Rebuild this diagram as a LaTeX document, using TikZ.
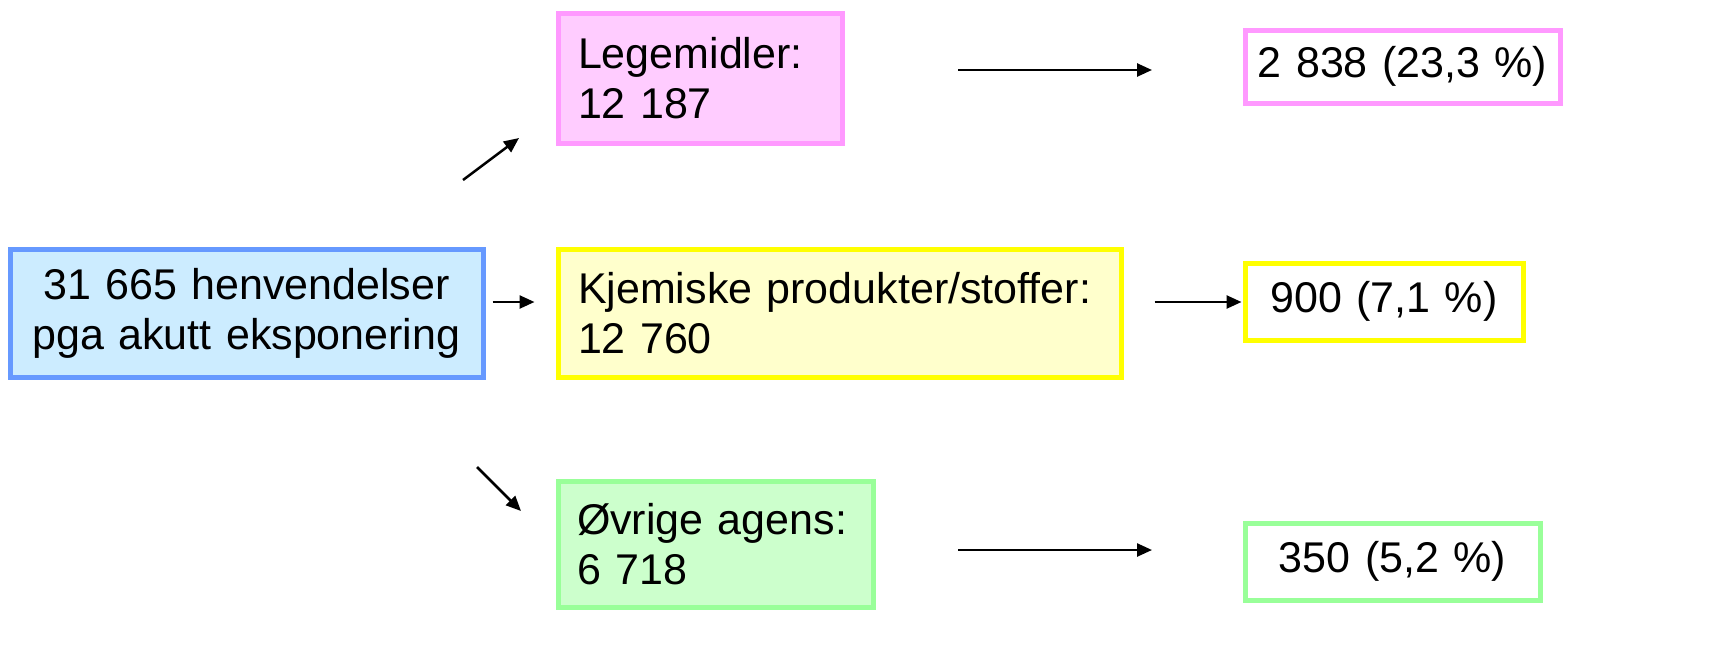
\documentclass[tikz,border=0pt]{standalone}
\usepackage{fontspec}
\setmainfont{Liberation Sans}
\usetikzlibrary{arrows.meta}
\definecolor{bluefill}{HTML}{CCECFF}
\definecolor{blueline}{HTML}{6699FF}
\definecolor{pinkfill}{HTML}{FFCCFF}
\definecolor{pinkline}{HTML}{FF99FF}
\definecolor{yelfill}{HTML}{FFFFCC}
\definecolor{yelline}{HTML}{FFFF00}
\definecolor{grnfill}{HTML}{CCFFCC}
\definecolor{grnline}{HTML}{99FF99}
\tikzset{
  box/.style={draw, line width=5pt, rectangle, inner ysep=0pt, inner xsep=20pt,
    font=\fontsize{43}{50}\selectfont},
  arr/.style={line width=2.5pt, -{Triangle[length=15pt,width=13pt]}}
}
\begin{document}
\begin{tikzpicture}[x=1pt,y=-1pt]
\useasboundingbox (0,0) rectangle (1723,667);
% main nodes
\node[box, fill=bluefill, draw=blueline, minimum width=473pt, minimum height=128pt,
  inner xsep=5pt, text width=463pt, align=center] (src) at (246.5,313)
  {31 665 henvendelser\\pga akutt eksponering};
\node[box, fill=pinkfill, draw=pinkline, minimum height=130pt, text width=244pt, align=left]
  (leg) at (700,78) {Legemidler:\\12 187};
\node[box, fill=yelfill, draw=yelline, minimum height=128pt, text width=523pt, align=left]
  (kje) at (839.5,313) {Kjemiske produkter/stoffer:\\12 760};
\node[box, fill=grnfill, draw=grnline, minimum height=126pt, text width=277pt, inner xsep=19pt, align=left]
  (ovr) at (715.5,544) {Øvrige agens:\\6 718};
% result nodes
\node[box, fill=white, draw=pinkline, minimum height=73pt, text width=305pt, inner xsep=5pt, align=center]
  (r1) at (1402.5,66.5) {2 838 (23,3 \%)};
\node[box, fill=white, draw=yelline, minimum height=77pt, text width=268pt, inner xsep=5pt, align=center]
  (r2) at (1384,301.5) {900 (7,1 \%)};
\node[box, fill=white, draw=grnline, minimum height=77pt, text width=285pt, inner xsep=5pt, align=center]
  (r3) at (1392.5,561.5) {350 (5,2 \%)};
% arrow end points
\coordinate (u1) at (463,180);
\coordinate (u2) at (519,138);
\coordinate (d1) at (477,467);
\coordinate (d2) at (521,511);
\coordinate (a1) at (958,70);
\coordinate (a2) at (1152,70);
\coordinate (c1) at (958,550);
\coordinate (c2) at (1152,550);
% connectors
\draw[arr] (src.east) ++(7,-11) coordinate (s1) -- ++(42,0) coordinate (s2);
\draw[arr] (u1) -- (u2);
\draw[arr] (d1) -- (d2);
\draw[arr] (kje.east) ++(31,-11) coordinate (k1) -- ++(87,0) coordinate (k2);
\draw[arr] (a1) -- (a2);
\draw[arr] (c1) -- (c2);
\end{tikzpicture}
\end{document}
